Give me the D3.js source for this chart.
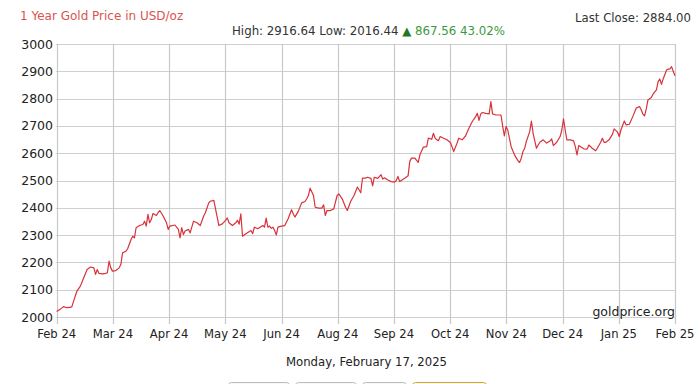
<!DOCTYPE html>
<html>
<head>
<meta charset="utf-8">
<script src="https://cdn.jsdelivr.net/npm/d3@7"></script>
<style>
  html, body { margin: 0; padding: 0; background: #fff; }
  svg { display: block; font-family: "DejaVu Sans", Verdana, sans-serif; }
</style>
</head>
<body>
<svg id="chart" width="700" height="384"></svg>
<script>
// ---- data ----
const titleText = "1 Year Gold Price in USD/oz";
const highValue = "2916.64";
const lowValue = "2016.44";
const changeValue = "867.56";
const changePct = "43.02%";
const lastClose = "2884.00";
const dateText = "Monday, February 17, 2025";
const sourceText = "goldprice.org";

const xTickLabels = ["Feb 24","Mar 24","Apr 24","May 24","Jun 24","Aug 24","Sep 24","Oct 24","Nov 24","Dec 24","Jan 25","Feb 25"];
const yTicks = [2000,2100,2200,2300,2400,2500,2600,2700,2800,2900,3000];
const totalDays = 366;

// day offset from Feb 17, 2024
const days = [0,2,4,6,8,9,10,12,14,16,18,20,22,23,24,25,27,29,30,31,32,33,35,37,38,39,41,42,44,45,46,47,49,51,52,53,54,55,56,57,59,60,61,63,65,66,67,70,72,73,74,75,76,78,79,81,83,85,87,88,90,91,93,95,96,98,100,101,102,104,106,107,108,109,110,112,115,116,117,119,122,123,124,125,126,127,128,129,130,131,133,135,137,139,140,141,143,145,147,148,149,150,152,153,155,157,158,159,160,162,164,166,167,169,171,172,174,176,178,180,181,183,184,186,187,188,190,192,193,194,196,198,200,201,202,203,204,206,208,209,210,212,214,215,217,219,220,222,223,224,225,226,227,229,231,233,234,235,237,238,240,242,244,246,248,249,250,251,252,254,256,257,258,260,263,264,265,266,267,269,271,273,274,275,276,277,278,280,281,282,284,285,286,288,290,292,293,294,296,298,299,300,301,302,304,306,307,308,309,312,314,315,317,319,320,322,323,324,325,327,329,330,332,333,334,336,337,339,341,343,345,346,347,348,349,350,352,353,355,356,357,358,359,361,362,363,364,365,366];
const prices = [2020,2028,2038,2034,2035,2038,2058,2095,2113,2144,2174,2183,2180,2156,2174,2160,2158,2160,2162,2205,2180,2168,2170,2180,2193,2235,2241,2250,2284,2296,2290,2327,2335,2339,2351,2333,2376,2345,2357,2379,2372,2382,2390,2370,2345,2321,2333,2337,2321,2290,2327,2302,2315,2321,2308,2351,2345,2335,2370,2382,2418,2424,2427,2366,2335,2341,2354,2363,2345,2335,2345,2354,2340,2378,2296,2305,2317,2305,2329,2323,2335,2329,2362,2329,2333,2325,2329,2317,2301,2329,2333,2335,2360,2393,2378,2366,2387,2418,2423,2433,2445,2472,2445,2402,2399,2399,2411,2372,2390,2390,2396,2445,2451,2433,2402,2390,2423,2445,2476,2455,2509,2509,2512,2508,2480,2512,2508,2521,2505,2510,2502,2496,2494,2500,2515,2496,2500,2508,2517,2570,2582,2582,2566,2594,2622,2624,2655,2651,2673,2655,2649,2646,2661,2655,2649,2639,2624,2606,2637,2655,2649,2663,2691,2716,2734,2746,2720,2744,2749,2746,2744,2789,2744,2740,2740,2698,2663,2698,2685,2624,2594,2573,2566,2582,2606,2618,2643,2679,2718,2673,2618,2630,2640,2649,2637,2645,2652,2628,2640,2661,2685,2726,2685,2649,2649,2645,2624,2594,2628,2616,2615,2630,2618,2609,2618,2640,2655,2640,2640,2649,2670,2689,2677,2661,2685,2718,2704,2706,2734,2765,2771,2759,2743,2737,2762,2795,2804,2816,2832,2862,2872,2852,2872,2905,2908,2909,2917,2899,2884];

// ---- layout ----
const svg = d3.select("#chart");
const plotL = 56.7, plotR = 675, plotT = 44, plotB = 317;

const x = d3.scaleLinear().domain([0, totalDays]).range([plotL, plotR]);
const y = d3.scaleLinear().domain([2000, 3000]).range([plotB, plotT]);
const tickDays = xTickLabels.map((d, i) => i * totalDays / (xTickLabels.length - 1));

// horizontal grid
svg.append("g")
  .selectAll("line").data(yTicks).join("line")
  .attr("x1", plotL - 1).attr("x2", plotR)
  .attr("y1", d => Math.round(y(d)) + 0.5).attr("y2", d => Math.round(y(d)) + 0.5)
  .attr("stroke", "#cfcfcf").attr("stroke-width", 1.2);

// vertical grid + ticks
svg.append("g")
  .selectAll("line").data(tickDays).join("line")
  .attr("x1", d => Math.round(x(d)) + 0.5).attr("x2", d => Math.round(x(d)) + 0.5)
  .attr("y1", plotT).attr("y2", plotB + 7)
  .attr("stroke", "#c8c8c8").attr("stroke-width", 1.2);

// y labels
svg.append("g")
  .selectAll("text").data(yTicks).join("text")
  .attr("x", 53).attr("y", d => y(d) + 4.5)
  .attr("text-anchor", "end")
  .attr("font-size", 12.5).attr("fill", "#222")
  .text(d => d);

// x labels
svg.append("g")
  .selectAll("text").data(xTickLabels).join("text")
  .attr("x", (d, i) => x(tickDays[i])).attr("y", 338)
  .attr("text-anchor", "middle")
  .attr("font-size", 11.6).attr("fill", "#222")
  .text(d => d);

// price line
const pts = days.map((d, i) => [d, prices[i]]);
svg.append("path")
  .datum(pts)
  .attr("fill", "none")
  .attr("stroke", "#d8323a")
  .attr("stroke-width", 1.2)
  .attr("stroke-linejoin", "round")
  .attr("d", d3.line().x(d => x(d[0])).y(d => y(d[1])));

// title
svg.append("text").attr("x", 20).attr("y", 20)
  .attr("font-size", 12).attr("fill", "#d9534f").text(titleText);

// stats line
const stats = svg.append("text").attr("x", 232).attr("y", 35).attr("font-size", 11.8);
stats.append("tspan").attr("fill", "#333").text(`High: ${highValue} Low: ${lowValue} `);
stats.append("tspan").attr("fill", "#1e7a1e").text("\u25B2");
stats.append("tspan").attr("fill", "#3a9a3a").text(` ${changeValue} ${changePct}`);

// last close
svg.append("text").attr("x", 691).attr("y", 22).attr("text-anchor", "end")
  .attr("font-size", 11.7).attr("fill", "#333").text(`Last Close: ${lastClose}`);

// source
svg.append("text").attr("x", 675).attr("y", 316).attr("text-anchor", "end")
  .attr("font-size", 12.5).attr("fill", "#222").text(sourceText);

// date
svg.append("text").attr("x", 366.5).attr("y", 366).attr("text-anchor", "middle")
  .attr("font-size", 11.7).attr("fill", "#222").text(dateText);

// partially visible buttons at bottom
const buttons = [[228, 61, false], [295, 61, false], [362, 44, false], [412, 74, true]];
svg.append("g").selectAll("rect").data(buttons).join("rect")
  .attr("x", d => d[0] + 0.5).attr("y", 382.5)
  .attr("width", d => d[1]).attr("height", 12)
  .attr("rx", 3)
  .attr("fill", d => d[2] ? "#fdf8e4" : "#f7f7f7")
  .attr("stroke", d => d[2] ? "#c9a640" : "#bdbdbd");
</script>
</body>
</html>
